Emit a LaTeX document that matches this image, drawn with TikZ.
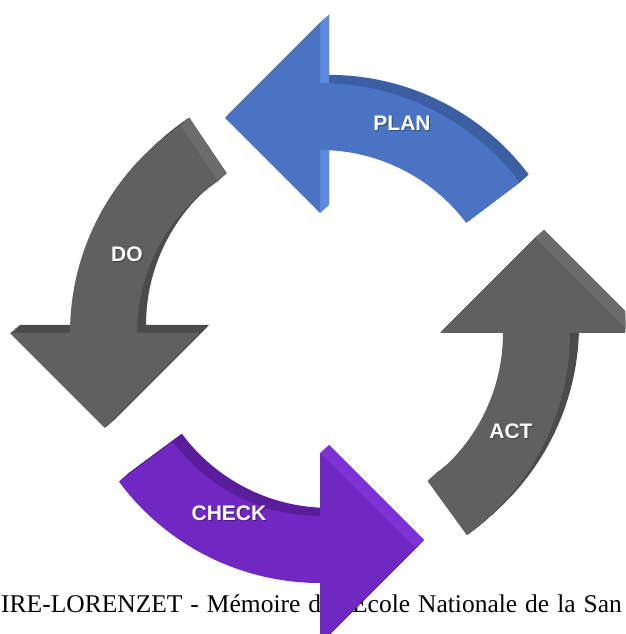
\documentclass[tikz,border=0pt]{standalone}
\usepackage{fontspec}
\setmainfont{Liberation Serif}
\newfontfamily\footerfont[WordSpace=1.25]{Liberation Serif}
\newfontfamily\labelfont{Liberation Sans}
\usetikzlibrary{calc}

\definecolor{planfront}{HTML}{4A73C4}
\definecolor{planside}{HTML}{3C5EA3}
\definecolor{planlight}{HTML}{5B8AE0}
\definecolor{grayfront}{HTML}{606060}
\definecolor{grayside}{HTML}{4B4B4B}
\definecolor{graylight}{HTML}{6C6C6C}
\definecolor{checkfront}{HTML}{7127C1}
\definecolor{checkside}{HTML}{5A1E9C}
\definecolor{checklight}{HTML}{7D33D6}

% One curved block arrow of the cycle: head base on the 90 degree ray,
% tail #1 degrees clockwise from it; #2 are the fill options.
\newcommand\pdcashape[2]{%
  \fill[#2] ({90-#1}:250) arc[start angle={90-#1}, end angle=90, radius=250]
    -- (0,310) -- (-95,215) -- (0,120) -- (0,183)
    arc[start angle=90, end angle={90-#1}, radius=183] -- cycle;}

% Extruded depth of an arrow, pushed back up and to the right.
\newcommand\pdcadepth[3]{%
  \foreach \k in {1,...,9}{\pdcashape{#1}{#3, shift={(\k,0.9*\k)}, rotate=#2}}}

\tikzset{
  pdcalabel/.style={font=\labelfont\bfseries\fontsize{21}{21}\selectfont,
    text=white, inner sep=0pt},
  pdcashadow/.style={pdcalabel, text=black, text opacity=0.35},
  footer/.style={font=\footerfont\fontsize{25.5}{30}\selectfont, text=black,
    anchor=base west, inner sep=0pt}
}

\begin{document}
\begin{tikzpicture}[x=1pt, y=1pt]
  \useasboundingbox (-320,-301) rectangle (305,333);
  \clip (-320,-301) rectangle (305,333);
  \fill[white] (-320,-301) rectangle (305,333);

  % running footer behind the arrows
  \node[footer] (footer) at (-319,-279) {IRE-LORENZET - Mémoire de l'École Nationale de la San};

  % PLAN
  \pdcadepth{53}{0}{planside}
  \fill[planlight] (0,310) -- (9,318) -- (9,250) -- (0,250) -- cycle;
  \fill[planlight] (0,183) -- (9,191) -- (9,128) -- (0,120) -- cycle;
  \pdcashape{53}{planfront}

  % DO
  \pdcadepth{56}{90}{grayside}
  \fill[graylight] (124:183) -- (124:250) -- ($(124:250)+(9,8)$) -- ($(124:183)+(9,8)$) -- cycle;
  \pdcashape{56}{grayfront, rotate=90}

  % CHECK
  \pdcadepth{53.5}{180}{checkside}
  \fill[checklight] (0,-120) -- (95,-215) -- (104,-207) -- (9,-112) -- cycle;
  \pdcashape{53.5}{checkfront, rotate=180}

  % ACT
  \pdcadepth{54}{270}{grayside}
  \fill[graylight] (215,95) -- (310,0) -- (319,8) -- (224,103) -- cycle;
  \pdcashape{54}{grayfront, rotate=270}

  % labels with a soft shadow
  \node[pdcashadow] (planshadow)  at (83,209)    {PLAN};
  \node[pdcalabel]  (plan)        at (82,210)    {PLAN};
  \node[pdcashadow] (doshadow)    at (-192,78)   {DO};
  \node[pdcalabel]  (do)          at (-193,79)   {DO};
  \node[pdcashadow] (checkshadow) at (-90,-181)  {CHECK};
  \node[pdcalabel]  (check)       at (-91,-180)  {CHECK};
  \node[pdcashadow] (actshadow)   at (192,-99)   {ACT};
  \node[pdcalabel]  (act)         at (191,-98)   {ACT};
\end{tikzpicture}
\end{document}
